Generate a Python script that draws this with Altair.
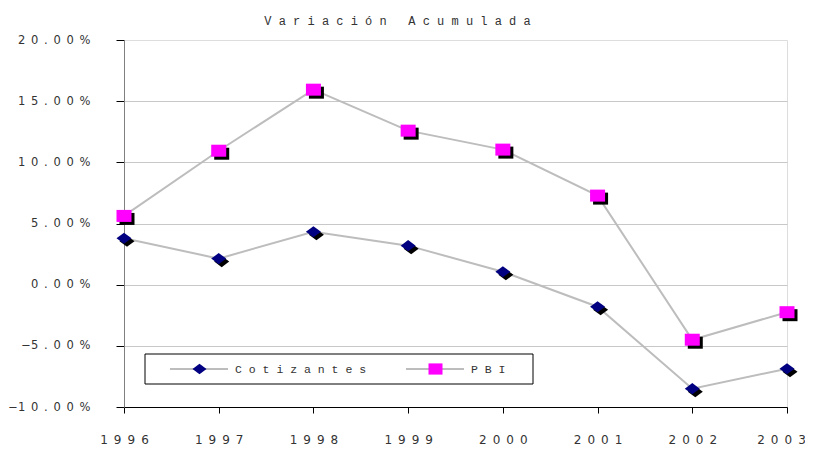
import altair as alt
import pandas as pd

# ---- data ----
years = ["1996", "1997", "1998", "1999", "2000", "2001", "2002", "2003"]
cotizantes = [3.8, 2.13, 4.33, 3.19, 1.06, -1.8, -8.5, -6.87]
pbi = [5.62, 10.95, 15.94, 12.59, 11.04, 7.28, -4.5, -2.25]
series_names = ["Cotizantes", "PBI"]
series_colors = ["#000080", "#FF00FF"]
y_ticks = [-10, -5, 0, 5, 10, 15, 20]
title_text = "Variación Acumulada"

rows = []
for name, vals in zip(series_names, [cotizantes, pbi]):
    for yr, v in zip(years, vals):
        rows.append({"year": yr, "value": v, "series": name})
df = pd.DataFrame(rows)

NB = "\u00a0"
EN = "\u2002"
LINE_GRAY = "#bdbdbd"


def spaced(s, sep=NB):
    return sep.join(list(s))


DIAMOND = "M-1,0L0,-0.74L1,0L0,0.74Z"
SQUARE = "M-1,-0.8H1V0.8H-1Z"
series_shapes = [DIAMOND, SQUARE]

x_enc = alt.X(
    "year:O",
    sort=years,
    scale=alt.Scale(type="point", padding=0),
    axis=alt.Axis(
        title=None,
        labelAngle=0,
        tickSize=6,
        tickColor="black",
        domainColor="black",
        labelPadding=21,
        labelFont="DejaVu Sans",
        labelFontSize=12,
        labelColor="#333333",
        labelOffset={"condition": {"test": "datum.value === '2003'", "value": -6}, "value": 0},
        labelExpr="replace(datum.label, regexp('(.)(?=.)', 'g'), '$1" + EN + "')",
        grid=False,
    ),
)
y_enc = alt.Y(
    "value:Q",
    scale=alt.Scale(domain=[-10, 20], nice=False, zero=False),
    axis=alt.Axis(
        title=None,
        values=y_ticks,
        tickSize=8,
        tickColor="black",
        domainColor="#808080",
        labelPadding=26,
        labelFont="DejaVu Sans",
        labelFontSize=11.5,
        labelColor="#333333",
        labelExpr="replace(format(datum.value, '.2f') + '%', regexp('([^\u2212])(?=.)', 'g'), '$1" + EN + "')",
        grid=True,
        gridColor={"condition": {"test": "datum.value >= 20", "value": "transparent"}, "value": "#c8c8c8"},
    ),
)

shape_scale = alt.Scale(domain=series_names, range=series_shapes)

base = alt.Chart(df).encode(x=x_enc, y=y_enc)

lines = base.mark_line(color=LINE_GRAY, strokeWidth=2).encode(detail="series:N")

shadow = base.mark_point(
    filled=True, color="black", opacity=1, size=225, xOffset=3, yOffset=3, strokeWidth=0
).encode(shape=alt.Shape("series:N", scale=shape_scale, legend=None))

points = base.mark_point(filled=True, opacity=1, size=225, strokeWidth=0).encode(
    shape=alt.Shape("series:N", scale=shape_scale, legend=None),
    fill=alt.Fill("series:N", scale=alt.Scale(domain=series_names, range=series_colors), legend=None),
)

# ---- legend box (drawn as chart furniture, in pixels of the plot area) ----
one = pd.DataFrame({"k": [0]})
LEG_X, LEG_Y, LEG_W, LEG_H = 21, 314, 388, 30
legend_layers = [
    alt.Chart(one).mark_rect(fill="white", stroke="black", strokeWidth=1).encode(
        x=alt.value(LEG_X), x2=alt.value(LEG_X + LEG_W),
        y=alt.value(LEG_Y), y2=alt.value(LEG_Y + LEG_H),
    )
]
entry_starts = [LEG_X + 25, LEG_X + 261]
cy = LEG_Y + LEG_H / 2
for name, color, shape, sx in zip(series_names, series_colors, series_shapes, entry_starts):
    legend_layers.append(
        alt.Chart(one).mark_rule(color=LINE_GRAY, strokeWidth=2).encode(
            x=alt.value(sx), x2=alt.value(sx + 58), y=alt.value(cy)
        )
    )
    legend_layers.append(
        alt.Chart(one).mark_point(filled=True, opacity=1, size=196, strokeWidth=0, fill=color, shape=shape).encode(
            x=alt.value(sx + 29.5), y=alt.value(cy)
        )
    )
    legend_layers.append(
        alt.Chart(one).mark_text(
            align="left", baseline="middle", font="Liberation Mono", fontSize=11.5, color="#333333"
        ).encode(x=alt.value(sx + 65), y=alt.value(cy + 1), text=alt.value(spaced(name)))
    )

chart = (
    alt.layer(lines, shadow, points, *legend_layers)
    .properties(
        width=663,
        height=367,
        autosize=alt.AutoSizeParams(type="none"),
        padding={"left": 116, "top": 32, "right": 18, "bottom": 40},
        title=alt.Title(
            text=spaced(title_text),
            font="Liberation Mono",
            fontSize=12,
            fontWeight="normal",
            color="#333333",
            anchor="middle",
            frame="group",
            dx=-58,
            offset=6,
        ),
    )
    .configure_view(stroke=None)
    .configure(background="white")
)

chart.save("out.html", embed_options={"renderer": "svg", "actions": False})
